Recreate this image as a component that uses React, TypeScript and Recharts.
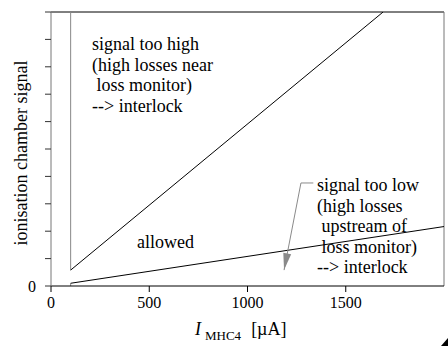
import React from 'react';
import { ComposedChart, Line, Scatter, XAxis, YAxis, ReferenceLine } from 'recharts';

// boundary lines (I_MHC4 in µA, signal in arbitrary units)
const upperEdgeX = [100, 100];
const upperEdgeY = [10, 0.58];
const upperX = [100, 1690];
const upperY = [0.58, 10];
const lowerEdgeX = [100, 100];
const lowerEdgeY = [0, 0.1];
const lowerX = [100, 2000];
const lowerY = [0.1, 2.17];
// gray pointer for the "signal too low" note
const arrowX = [1335, 1272, 1186];
const arrowY = [3.76, 3.76, 0.58];

const xTicks = [0, 500, 1000, 1500];
const yTicks = [0, 1, 2, 3, 4, 5, 6, 7, 8, 9, 10];

const highText = ['signal too high', '(high losses near', ' loss monitor)', '--> interlock'];
const lowText = ['signal too low', '(high losses', ' upstream of', ' loss monitor)', '--> interlock'];

const toPoints = (xs: number[], ys: number[]) => xs.map((x, i) => ({ x, y: ys[i] }));

const arrowData = toPoints(arrowX, arrowY);
const arrowTip = [arrowData[arrowData.length - 1]];

const FONT = 'Liberation Serif';
const txt = { fontFamily: FONT, fontSize: 18, fill: '#000', whiteSpace: 'pre' as const };

const ArrowHead = (props: any) => {
  const { cx, cy } = props;
  return (
    <polygon
      points={`${cx},${cy} ${cx - 4},${cy - 17} ${cx + 4},${cy - 17}`}
      fill="#8a8a8a"
      transform={`rotate(10.8, ${cx}, ${cy})`}
    />
  );
};

const App: React.FC = () => {
  return (
    <div style={{ position: 'absolute', left: 0, top: 0, width: 448, height: 346, background: '#fff' }}>
      <ComposedChart width={448} height={346} margin={{ top: 12, right: 4, bottom: 30, left: 11 }}>
        <XAxis
          type="number"
          dataKey="x"
          domain={[0, 2000]}
          ticks={xTicks}
          allowDataOverflow
          height={30}
          stroke="#000"
          tickSize={6}
          tickMargin={5}
          tick={{ fill: '#000', fontSize: 16, style: { fontFamily: FONT } }}
        />
        <YAxis
          type="number"
          dataKey="y"
          domain={[0, 10]}
          ticks={yTicks}
          allowDataOverflow
          width={40}
          axisLine={{ stroke: '#777' }}
          tickLine={{ stroke: '#333' }}
          tickSize={6}
          tickMargin={9}
          tickFormatter={(v: number) => (v === 0 ? '0' : '')}
          tick={{ fill: '#000', fontSize: 16, style: { fontFamily: FONT } }}
        />
        <ReferenceLine y={10} stroke="#000" ifOverflow="visible" />
        <ReferenceLine x={2000} stroke="#777" ifOverflow="visible" />
        <Line data={toPoints(upperEdgeX, upperEdgeY)} dataKey="y" type="linear" stroke="#888" strokeWidth={1} dot={false} isAnimationActive={false} />
        <Line data={toPoints(upperX, upperY)} dataKey="y" type="linear" stroke="#000" strokeWidth={1} dot={false} isAnimationActive={false} />
        <Line data={toPoints(lowerEdgeX, lowerEdgeY)} dataKey="y" type="linear" stroke="#888" strokeWidth={1} dot={false} isAnimationActive={false} />
        <Line data={toPoints(lowerX, lowerY)} dataKey="y" type="linear" stroke="#000" strokeWidth={1} dot={false} isAnimationActive={false} />
        <Line data={arrowData} dataKey="y" type="linear" stroke="#8a8a8a" strokeWidth={1} dot={false} isAnimationActive={false} />
        <Scatter data={arrowTip} dataKey="y" shape={ArrowHead} isAnimationActive={false} />

        {highText.map((t, i) => (
          <text key={'h' + i} x={92} y={50 + i * 20.5} style={txt}>{t}</text>
        ))}
        {lowText.map((t, i) => (
          <text key={'l' + i} x={317} y={191 + i * 20.5} style={txt}>{t}</text>
        ))}
        <text x={137} y={248} style={txt}>allowed</text>
        <text transform="translate(21,153) rotate(-90)" textAnchor="middle" dominantBaseline="central" style={txt}>
          ionisation chamber signal
        </text>
        <text x={195} y={335} style={txt}>
          <tspan fontStyle="italic">I</tspan>
          <tspan dx={4} dy={5} fontSize={13}>MHC4</tspan>
          <tspan dx={10} dy={-5}>[µA]</tspan>
        </text>
      </ComposedChart>
      <svg width={8} height={8} style={{ position: 'absolute', left: 440, top: 338 }}>
        <polygon points="8,0 8,8 1,8" fill="#000" />
      </svg>
    </div>
  );
};

export default App;
